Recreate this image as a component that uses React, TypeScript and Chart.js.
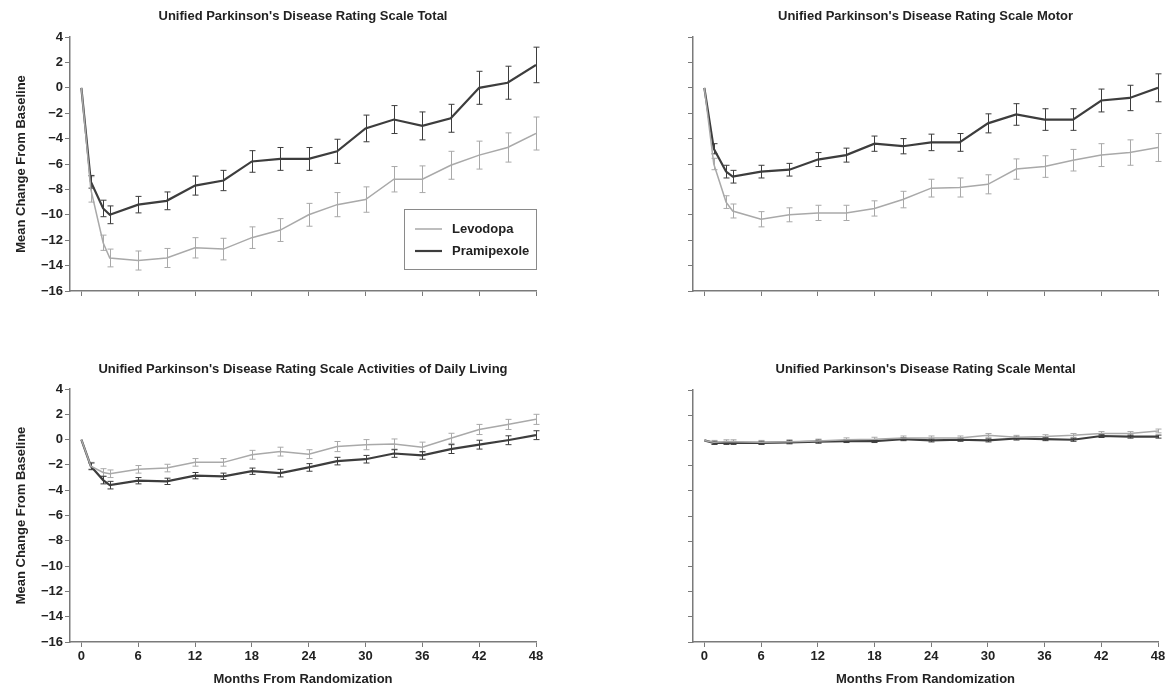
import React, { useEffect, useRef } from 'react';
import { Chart, registerables } from 'chart.js';

Chart.register(...registerables);

// ---- data ----
const months = [0, 1, 2.3, 3, 6, 9, 12, 15, 18, 21, 24, 27, 30, 33, 36, 39, 42, 45, 48];
const xTicks = [0, 6, 12, 18, 24, 30, 36, 42, 48];
const yTicks = [4, 2, 0, -2, -4, -6, -8, -10, -12, -14, -16];
const seriesNames = ['Levodopa', 'Pramipexole'];

const totalLevodopa = [0, -8.0, -12.2, -13.4, -13.6, -13.4, -12.6, -12.7, -11.8, -11.2, -10.0, -9.2, -8.8, -7.2, -7.2, -6.1, -5.3, -4.7, -3.6];
const totalLevodopaErr = [0, 1.0, 0.6, 0.7, 0.75, 0.75, 0.8, 0.85, 0.85, 0.9, 0.9, 0.95, 1.0, 1.0, 1.05, 1.1, 1.1, 1.15, 1.3];
const totalPramipexole = [0, -7.4, -9.5, -10.0, -9.2, -8.9, -7.7, -7.3, -5.8, -5.6, -5.6, -5.0, -3.2, -2.5, -3.0, -2.4, 0, 0.4, 1.8];
const totalPramipexoleErr = [0, 0.5, 0.65, 0.7, 0.65, 0.7, 0.75, 0.8, 0.85, 0.9, 0.9, 0.95, 1.05, 1.1, 1.1, 1.1, 1.3, 1.3, 1.4];

const motorLevodopa = [0, -6.0, -9.0, -9.7, -10.35, -10.0, -9.85, -9.85, -9.5, -8.8, -7.9, -7.85, -7.6, -6.4, -6.2, -5.7, -5.3, -5.1, -4.7];
const motorLevodopaErr = [0, 0.45, 0.5, 0.55, 0.6, 0.55, 0.6, 0.6, 0.6, 0.65, 0.7, 0.75, 0.75, 0.8, 0.85, 0.85, 0.9, 1.0, 1.1];
const motorPramipexole = [0, -4.8, -6.6, -7.0, -6.6, -6.45, -5.65, -5.3, -4.4, -4.6, -4.3, -4.3, -2.8, -2.1, -2.5, -2.5, -1.0, -0.8, 0];
const motorPramipexoleErr = [0, 0.4, 0.5, 0.5, 0.5, 0.5, 0.55, 0.55, 0.6, 0.6, 0.65, 0.7, 0.75, 0.85, 0.85, 0.85, 0.9, 1.0, 1.1];

const adlLevodopa = [0, -2.1, -2.6, -2.7, -2.35, -2.25, -1.8, -1.8, -1.2, -0.95, -1.15, -0.55, -0.4, -0.35, -0.6, 0.1, 0.8, 1.2, 1.6];
const adlLevodopaErr = [0, 0.3, 0.3, 0.3, 0.3, 0.3, 0.3, 0.3, 0.35, 0.35, 0.35, 0.4, 0.4, 0.4, 0.4, 0.4, 0.4, 0.4, 0.4];
const adlPramipexole = [0, -2.1, -3.2, -3.6, -3.25, -3.3, -2.85, -2.9, -2.5, -2.65, -2.2, -1.7, -1.55, -1.1, -1.25, -0.75, -0.4, -0.05, 0.35];
const adlPramipexoleErr = [0, 0.25, 0.3, 0.3, 0.25, 0.25, 0.25, 0.25, 0.25, 0.3, 0.3, 0.3, 0.3, 0.3, 0.3, 0.35, 0.35, 0.35, 0.35];

const mentalLevodopa = [0, -0.15, -0.1, -0.1, -0.15, -0.1, -0.05, 0.05, 0.1, 0.2, 0.2, 0.2, 0.4, 0.25, 0.3, 0.4, 0.55, 0.55, 0.75];
const mentalLevodopaErr = [0, 0.15, 0.15, 0.15, 0.15, 0.15, 0.15, 0.15, 0.15, 0.15, 0.15, 0.15, 0.15, 0.15, 0.15, 0.15, 0.15, 0.15, 0.15];
const mentalPramipexole = [0, -0.2, -0.2, -0.2, -0.2, -0.15, -0.1, -0.05, -0.05, 0.1, 0, 0.05, 0, 0.15, 0.1, 0.05, 0.35, 0.3, 0.3];
const mentalPramipexoleErr = [0, 0.12, 0.12, 0.12, 0.12, 0.12, 0.12, 0.12, 0.12, 0.12, 0.12, 0.12, 0.12, 0.12, 0.12, 0.12, 0.12, 0.12, 0.12];

const titles = [
  "Unified Parkinson's Disease Rating Scale Total",
  "Unified Parkinson's Disease Rating Scale Motor",
  "Unified Parkinson's Disease Rating Scale Activities of Daily Living",
  "Unified Parkinson's Disease Rating Scale Mental",
];
const yAxisTitle = 'Mean Change From Baseline';
const xAxisTitle = 'Months From Randomization';

// ---- styles ----
const FONT = "'Liberation Sans', Arial, sans-serif";
const LIGHT = '#a9a9a9';
const DARK = '#3d3d3d';
const AXIS = '#7a7a7a';
const TEXT = '#222222';

const errorBarPlugin = {
  id: 'errorBars',
  beforeDatasetsDraw(chart: any) {
    const ctx = chart.ctx;
    const xs = chart.scales.x;
    const ys = chart.scales.y;
    chart.data.datasets.forEach((ds: any) => {
      const errs = ds.errors;
      if (!errs) return;
      ctx.save();
      ctx.strokeStyle = ds.borderColor;
      ctx.lineWidth = 1;
      ds.data.forEach((p: any, j: number) => {
        const e = errs[j];
        if (!e) return;
        const x = Math.round(xs.getPixelForValue(p.x)) + 0.5;
        const y1 = ys.getPixelForValue(p.y - e);
        const y2 = ys.getPixelForValue(p.y + e);
        ctx.beginPath();
        ctx.moveTo(x, y1);
        ctx.lineTo(x, y2);
        ctx.moveTo(x - 3, y1);
        ctx.lineTo(x + 3, y1);
        ctx.moveTo(x - 3, y2);
        ctx.lineTo(x + 3, y2);
        ctx.stroke();
      });
      ctx.restore();
    });
  },
};

const panelTitlePlugin = {
  id: 'panelTitle',
  afterDraw(chart: any, _args: any, opts: any) {
    if (!opts || !opts.text) return;
    const ctx = chart.ctx;
    const ca = chart.chartArea;
    ctx.save();
    ctx.font = `bold 13px ${FONT}`;
    ctx.fillStyle = TEXT;
    ctx.textAlign = 'center';
    ctx.textBaseline = 'middle';
    ctx.fillText(opts.text, (ca.left + ca.right) / 2, opts.y);
    ctx.restore();
  },
};

const boxLegendPlugin = {
  id: 'boxLegend',
  afterDraw(chart: any, _args: any, opts: any) {
    if (!opts || !opts.show) return;
    const ctx = chart.ctx;
    const ca = chart.chartArea;
    const w = 132;
    const h = 60;
    const left = ca.right - w;
    const top = ca.bottom - 22 - h;
    ctx.save();
    ctx.strokeStyle = '#8a8a8a';
    ctx.lineWidth = 1;
    ctx.strokeRect(Math.round(left) + 0.5, Math.round(top) + 0.5, w, h);
    chart.data.datasets.forEach((ds: any, i: number) => {
      const y = top + 20 + i * 22;
      ctx.strokeStyle = ds.borderColor;
      ctx.lineWidth = ds.borderWidth;
      ctx.beginPath();
      ctx.moveTo(left + 11, y);
      ctx.lineTo(left + 38, y);
      ctx.stroke();
      ctx.fillStyle = TEXT;
      ctx.font = `bold 13px ${FONT}`;
      ctx.textAlign = 'left';
      ctx.textBaseline = 'middle';
      ctx.fillText(ds.label, left + 48, y);
    });
    ctx.restore();
  },
};

const fmt = (v: number) => (v < 0 ? '\u2212' + Math.abs(v) : String(v));

type PanelProps = {
  left: number;
  top: number;
  width: number;
  height: number;
  padTop: number;
  padRight: number;
  yWidth: number;
  xHeight: number;
  title: string;
  titleY: number;
  showYLabels: boolean;
  showXLabels: boolean;
  showLegend: boolean;
  lev: number[];
  levErr: number[];
  pra: number[];
  praErr: number[];
};

function Panel(p: PanelProps) {
  const ref = useRef<HTMLCanvasElement | null>(null);
  useEffect(() => {
    if (!ref.current) return;
    const toPts = (arr: number[]) => months.map((m, i) => ({ x: m, y: arr[i] }));
    const chart = new Chart(ref.current, {
      type: 'line',
      data: {
        datasets: [
          {
            label: seriesNames[0],
            data: toPts(p.lev),
            errors: p.levErr,
            borderColor: LIGHT,
            borderWidth: 1.5,
            pointRadius: 0,
            tension: 0,
            fill: false,
          } as any,
          {
            label: seriesNames[1],
            data: toPts(p.pra),
            errors: p.praErr,
            borderColor: DARK,
            borderWidth: 2.2,
            pointRadius: 0,
            tension: 0,
            fill: false,
          } as any,
        ],
      },
      options: {
        responsive: false,
        animation: false,
        devicePixelRatio: 1,
        layout: {
          autoPadding: false,
          padding: { left: 0, top: p.padTop, right: p.padRight, bottom: 0 },
        },
        plugins: {
          legend: { display: false },
          tooltip: { enabled: false },
          title: { display: false },
          panelTitle: { text: p.title, y: p.titleY },
          boxLegend: { show: p.showLegend },
        } as any,
        scales: {
          x: {
            type: 'linear',
            min: -1.2,
            max: 48,
            afterBuildTicks: (s: any) => {
              s.ticks = xTicks.map((v) => ({ value: v }));
            },
            afterFit: (s: any) => {
              s.height = p.xHeight;
            },
            grid: {
              display: true,
              drawOnChartArea: false,
              drawTicks: true,
              tickLength: 5,
              tickColor: AXIS,
              tickWidth: 1,
            },
            border: { display: true, color: AXIS, width: 1.5 },
            ticks: {
              autoSkip: false,
              maxRotation: 0,
              padding: 2,
              color: TEXT,
              font: { family: FONT, size: 13, weight: 'bold' },
              callback: (v: any) => (p.showXLabels ? String(v) : ''),
            },
            title: {
              display: p.showXLabels,
              text: xAxisTitle,
              color: TEXT,
              font: { family: FONT, size: 13, weight: 'bold' },
              padding: { top: 2, bottom: 4 },
            },
          },
          y: {
            type: 'linear',
            min: -16,
            max: 4,
            afterBuildTicks: (s: any) => {
              s.ticks = yTicks.map((v) => ({ value: v }));
            },
            afterFit: (s: any) => {
              s.width = p.yWidth;
            },
            grid: {
              display: true,
              drawOnChartArea: false,
              drawTicks: true,
              tickLength: 5,
              tickColor: AXIS,
              tickWidth: 1,
            },
            border: { display: true, color: AXIS, width: 1.5 },
            ticks: {
              autoSkip: false,
              padding: 2,
              color: TEXT,
              font: { family: FONT, size: 13, weight: 'bold' },
              callback: (v: any) => (p.showYLabels ? fmt(Number(v)) : ''),
            },
            title: {
              display: p.showYLabels,
              text: yAxisTitle,
              color: TEXT,
              font: { family: FONT, size: 13, weight: 'bold' },
              padding: { top: 14, bottom: 0 },
            },
          },
        },
      } as any,
      plugins: [errorBarPlugin, panelTitlePlugin, boxLegendPlugin],
    });
    return () => chart.destroy();
  }, []);
  return (
    <canvas
      ref={ref}
      width={p.width}
      height={p.height}
      style={{ position: 'absolute', left: p.left, top: p.top, width: p.width, height: p.height }}
    />
  );
}

export default function App() {
  return (
    <div
      style={{
        position: 'fixed',
        left: 0,
        top: 0,
        width: 1166,
        height: 691,
        overflow: 'hidden',
        background: '#ffffff',
      }}
    >
      <Panel
        left={0} top={0} width={583} height={345}
        padTop={37} padRight={47} yWidth={70} xHeight={54}
        title={titles[0]} titleY={16}
        showYLabels={true} showXLabels={false} showLegend={true}
        lev={totalLevodopa} levErr={totalLevodopaErr}
        pra={totalPramipexole} praErr={totalPramipexoleErr}
      />
      <Panel
        left={583} top={0} width={600} height={345}
        padTop={37} padRight={25} yWidth={110} xHeight={54}
        title={titles[1]} titleY={16}
        showYLabels={false} showXLabels={false} showLegend={false}
        lev={motorLevodopa} levErr={motorLevodopaErr}
        pra={motorPramipexole} praErr={motorPramipexoleErr}
      />
      <Panel
        left={0} top={345} width={583} height={346}
        padTop={44} padRight={47} yWidth={70} xHeight={49}
        title={titles[2]} titleY={24}
        showYLabels={true} showXLabels={true} showLegend={false}
        lev={adlLevodopa} levErr={adlLevodopaErr}
        pra={adlPramipexole} praErr={adlPramipexoleErr}
      />
      <Panel
        left={583} top={345} width={600} height={346}
        padTop={45} padRight={25} yWidth={110} xHeight={49}
        title={titles[3]} titleY={24}
        showYLabels={false} showXLabels={true} showLegend={false}
        lev={mentalLevodopa} levErr={mentalLevodopaErr}
        pra={mentalPramipexole} praErr={mentalPramipexoleErr}
      />
    </div>
  );
}
